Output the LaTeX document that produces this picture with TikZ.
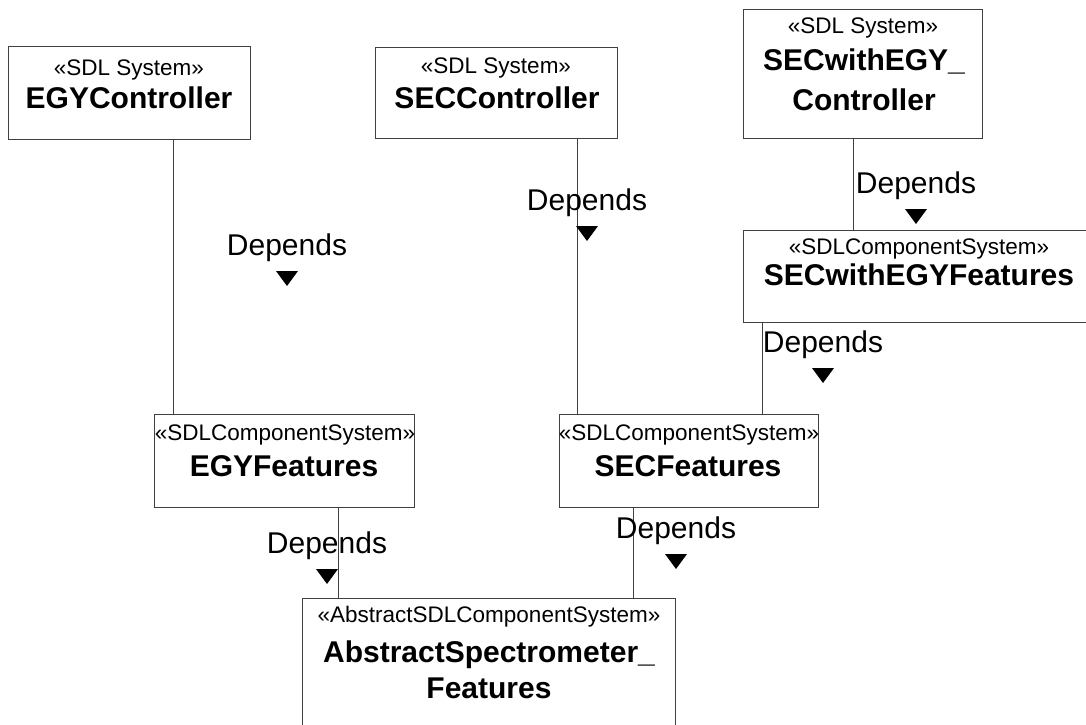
\documentclass[tikz,border=0pt]{standalone}
\usepackage{fontspec}
\setmainfont{Liberation Sans}
\usetikzlibrary{calc}
\tikzset{
  block/.style={draw=black!75, line width=1pt, rectangle, inner sep=0pt, anchor=north west},
  stereo/.style={anchor=base, inner sep=0pt, font=\fontsize{22.5}{27}\selectfont},
  bname/.style={anchor=base, inner sep=0pt, font=\bfseries\fontsize{30}{36}\selectfont},
  deplabel/.style={anchor=base, inner sep=0pt, font=\fontsize{30}{36}\selectfont},
  link/.style={draw=black!75, line width=1pt},
}
% "Depends" label with its downward triangle
\newcommand{\depmark}[3]{%
  \node[deplabel] (#1) at (#2,#3) {Depends};
  \fill ($(#1.base)+(-11,16)$) -- ++(22,0) -- ++(-11,15) -- cycle;
}
\begin{document}
\begin{tikzpicture}[x=1pt,y=-1pt]
\clip (0,0) rectangle (1086,724);
\fill[white] (0,0) rectangle (1086,724);

% blocks
\node[block, minimum width=242, minimum height=93] (egyc) at (8,46) {};
\node[stereo] at (129,75) {«SDL System»};
\node[bname] at (129,108) {EGYController};

\node[block, minimum width=242, minimum height=91] (secc) at (375,47) {};
\node[stereo] at (496,73) {«SDL System»};
\node[bname] at (497,108) {SECController};

\node[block, minimum width=239, minimum height=129] (swec) at (743,9) {};
\node[stereo] at (863,33) {«SDL System»};
\node[bname] at (864,70) {SECwithEGY\_};
\node[bname] at (864,110) {Controller};

\node[block, minimum width=352, minimum height=92] (swef) at (743,230) {};
\node[stereo] at (919,254) {«SDLComponentSystem»};
\node[bname] at (919,285) {SECwithEGYFeatures};

\node[block, minimum width=260, minimum height=93] (egyf) at (154,414) {};
\node[stereo] at (285,440) {«SDLComponentSystem»};
\node[bname] at (284,476) {EGYFeatures};

\node[block, minimum width=259, minimum height=93] (secf) at (559,414) {};
\node[stereo] at (689,440) {«SDLComponentSystem»};
\node[bname] at (688,476) {SECFeatures};

\node[block, minimum width=373, minimum height=140] (abs) at (302,598) {};
\node[stereo] at (489,622) {«AbstractSDLComponentSystem»};
\node[bname] at (489,662) {AbstractSpectrometer\_};
\node[bname] at (489,698) {Features};

% dependencies
\draw[link] (173,0 |- egyc.south) -- (173,0 |- egyf.north);
\draw[link] (577,0 |- secc.south) -- (577,0 |- secf.north);
\draw[link] (853,0 |- swec.south) -- (853,0 |- swef.north);
\draw[link] (762,0 |- swef.south) -- (762,0 |- secf.north);
\draw[link] (338,0 |- egyf.south) -- (338,0 |- abs.north);
\draw[link] (633,0 |- secf.south) -- (633,0 |- abs.north);

\depmark{d1}{287}{255}
\depmark{d2}{587}{210}
\depmark{d3}{916}{193}
\depmark{d4}{823}{352}
\depmark{d5}{327}{553}
\depmark{d6}{676}{538}
\end{tikzpicture}
\end{document}
